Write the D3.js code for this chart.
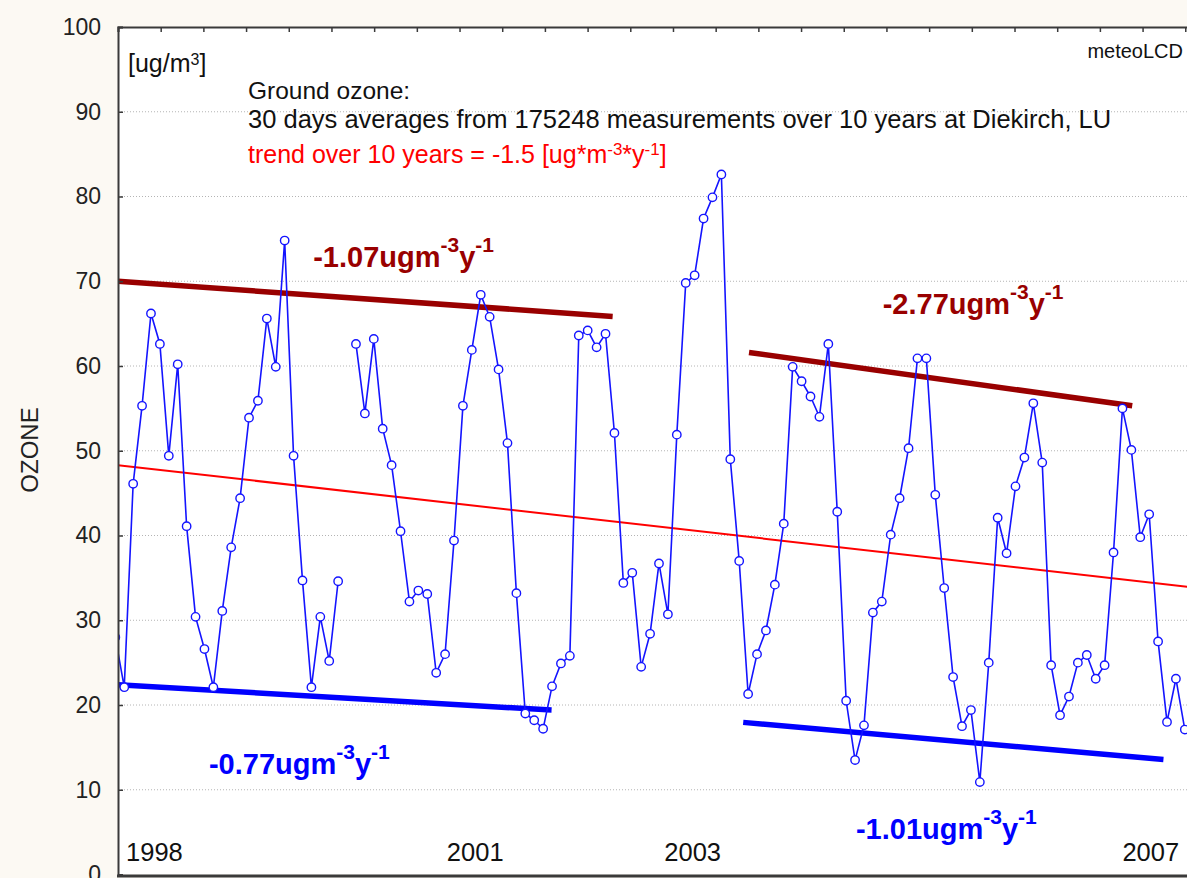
<!DOCTYPE html>
<html>
<head>
<meta charset="utf-8">
<script src="https://cdn.jsdelivr.net/npm/d3@7"></script>
<style>
  body { margin: 0; background: #fcf9f3; overflow: hidden; }
  svg { display: block; font-family: "Liberation Sans", Arial, sans-serif; }
</style>
</head>
<body>
<div id="chart"></div>
<script>
var margin = {top: 27, left: 118};
var width = 1100;      // plot runs past the right edge of the picture
var height = 847.5;

// 30 day averages, one per case (null = no data)
var ozone = [28.0, 22.1, 46.1, 55.3, 66.2, 62.6, 49.4, 60.2, 41.1, 30.4,
             26.6, 22.1, 31.1, 38.6, 44.4, 53.9, 55.9, 65.6, 59.9, 74.8,
             49.4, 34.7, 22.1, 30.4, 25.2, 34.6, null, 62.6, 54.4, 63.2,
             52.6, 48.3, 40.5, 32.2, 33.5, 33.1, 23.8, 26.0, 39.4, 55.3,
             61.9, 68.4, 65.8, 59.6, 50.9, 33.2, 19.0, 18.2, 17.2, 22.2,
             24.9, 25.8, 63.6, 64.2, 62.2, 63.8, 52.1, 34.4, 35.6, 24.5,
             28.4, 36.7, 30.7, 51.9, 69.8, 70.7, 77.4, 79.9, 82.6, 49.0,
             37.0, 21.3, 26.0, 28.8, 34.2, 41.4, 59.9, 58.2, 56.4, 54.0,
             62.6, 42.8, 20.5, 13.5, 17.6, 30.9, 32.2, 40.1, 44.4, 50.3,
             60.9, 60.9, 44.8, 33.8, 23.3, 17.5, 19.4, 10.9, 25.0, 42.1,
             37.9, 45.8, 49.2, 55.6, 48.6, 24.7, 18.8, 21.0, 25.0, 25.9,
             23.1, 24.7, 38.0, 55.0, 50.1, 39.8, 42.5, 27.5, 18.0, 23.1,
             17.1];

var yTicks = d3.range(0, 101, 10);
var yGrid = d3.range(10, 100, 10);
var caseTicks = d3.range(0.3, 125, 4.79);

var yearLabels = ["1998", "2001", "2003", "2007"];
var yearCases = [1.2, 37.2, 61.6, 113.0];
var yearValue = 1.6;

// trend over all 10 years
var trendAll = [[0.3, 48.3], [120.3, 33.95]];
// fits of the maxima and minima
var upperFits = [[[0.3, 70.0], [55.8, 65.85]], [[71.1, 61.6], [114.1, 55.3]]];
var lowerFits = [[[0.3, 22.4], [48.95, 19.4]], [[70.45, 17.95], [117.6, 13.56]]];

var upperRates = ["-1.07", "-2.77"];
var upperRateCases = [22.2, 86.1];
var upperRateValues = [71.7, 66.1];
var lowerRates = ["-0.77", "-1.01"];
var lowerRateCases = [10.5, 83.1];
var lowerRateValues = [11.9, 4.15];

var svg = d3.select("#chart").append("svg")
  .attr("width", 1187)
  .attr("height", 878);

svg.append("rect")
  .attr("x", margin.left).attr("y", margin.top)
  .attr("width", width).attr("height", height)
  .attr("fill", "#ffffff");

var g = svg.append("g")
  .attr("transform", "translate(" + margin.left + "," + margin.top + ")");

var x = d3.scaleLinear().domain([0.3, 120.3]).range([0, 1069.5]);
var y = d3.scaleLinear().domain([0, 100]).range([height, 0]);

g.append("clipPath").attr("id", "plotClip")
  .append("rect").attr("width", width).attr("height", height);

// grid
g.append("g")
  .selectAll("line")
  .data(yGrid)
  .join("line")
  .attr("x1", 0).attr("x2", width)
  .attr("y1", d => y(d)).attr("y2", d => y(d))
  .attr("stroke", "#b4b4b4")
  .attr("stroke-width", 1)
  .attr("stroke-dasharray", "1,2");

var line = d3.line()
  .defined(d => d[1] != null)
  .x(d => x(d[0]))
  .y(d => y(d[1]));

var plot = g.append("g").attr("clip-path", "url(#plotClip)");

upperFits.forEach(function(f) {
  plot.append("path").datum(f)
    .attr("fill", "none").attr("stroke", "#990000").attr("stroke-width", 5.5)
    .attr("d", line);
});
lowerFits.forEach(function(f) {
  plot.append("path").datum(f)
    .attr("fill", "none").attr("stroke", "#0000ff").attr("stroke-width", 5.5)
    .attr("d", line);
});

plot.append("path").datum(trendAll)
  .attr("fill", "none").attr("stroke", "#ff0000").attr("stroke-width", 2)
  .attr("d", line);

var points = ozone.map((v, i) => [i, v]);

plot.append("path").datum(points)
  .attr("fill", "none").attr("stroke", "#1414ff").attr("stroke-width", 1.6)
  .attr("d", line);

plot.append("g")
  .selectAll("circle")
  .data(points.filter(d => d[1] != null))
  .join("circle")
  .attr("cx", d => x(d[0]))
  .attr("cy", d => y(d[1]))
  .attr("r", 4.2)
  .attr("fill", "#ffffff")
  .attr("stroke", "#1414ff")
  .attr("stroke-width", 1.4);

// axes
var yAxis = g.append("g")
  .call(d3.axisLeft(y).tickValues(yTicks).tickSize(-5).tickPadding(17));
yAxis.select(".domain").attr("stroke", "#3a3a3a").attr("stroke-width", 2);
yAxis.selectAll(".tick line").attr("stroke", "#3a3a3a").attr("stroke-width", 1.5);
yAxis.selectAll(".tick text")
  .attr("fill", "#222")
  .style("font-size", "23px")
  .style("font-family", "'Liberation Sans', Arial, sans-serif");

var topAxis = g.append("g")
  .call(d3.axisTop(x).tickValues(caseTicks).tickSize(-5).tickFormat(""));
topAxis.select(".domain").attr("stroke", "#3a3a3a").attr("stroke-width", 2);
topAxis.selectAll(".tick line").attr("stroke", "#3a3a3a").attr("stroke-width", 1.5);

g.append("line")
  .attr("x1", -1).attr("x2", width)
  .attr("y1", height + 1.5).attr("y2", height + 1.5)
  .attr("stroke", "#3a3a3a").attr("stroke-width", 3);

svg.append("text")
  .attr("transform", "translate(38,450) rotate(-90)")
  .attr("text-anchor", "middle")
  .style("font-size", "24px")
  .attr("fill", "#222")
  .text("OZONE");

// year labels inside the plot
g.append("g")
  .selectAll("text")
  .data(yearLabels)
  .join("text")
  .attr("x", (d, i) => x(yearCases[i]))
  .attr("y", y(yearValue))
  .style("font-size", "25.5px")
  .attr("fill", "#111")
  .text(d => d);

// texts
function sup(t, main, s, shift, size) {
  t.append("tspan").text(main);
  t.append("tspan").attr("dy", -shift).style("font-size", size + "px").text(s);
}

var unit = svg.append("text").attr("x", 128).attr("y", 72)
  .style("font-size", "25px").attr("fill", "#111");
sup(unit, "[ug/m", "3", 7, 16);
unit.append("tspan").attr("dy", 7).text("]");

svg.append("text").attr("x", 1183).attr("y", 58)
  .attr("text-anchor", "end")
  .style("font-size", "20px").attr("fill", "#111")
  .text("meteoLCD");

svg.append("text").attr("x", 248).attr("y", 99)
  .style("font-size", "24.5px").attr("fill", "#111")
  .text("Ground ozone:");
svg.append("text").attr("x", 248).attr("y", 128)
  .style("font-size", "25.5px").attr("fill", "#111")
  .text("30 days averages from 175248 measurements over 10 years at Diekirch, LU");

var tr = svg.append("text").attr("x", 248).attr("y", 163)
  .style("font-size", "25px").attr("fill", "#ff0000");
sup(tr, "trend over 10 years = -1.5 [ug*m", "-3", 8, 17);
tr.append("tspan").attr("dy", 8).text("*y");
tr.append("tspan").attr("dy", -8).style("font-size", "17px").text("-1");
tr.append("tspan").attr("dy", 8).text("]");

function rateLabel(rate, c, v, color) {
  var t = g.append("text")
    .attr("x", x(c)).attr("y", y(v))
    .style("font-size", "29px").style("font-weight", "bold")
    .attr("fill", color);
  sup(t, rate + "ugm", "-3", 15, 21);
  t.append("tspan").attr("dy", 15).text("y");
  t.append("tspan").attr("dy", -15).style("font-size", "21px").text("-1");
}
upperRates.forEach((r, i) => rateLabel(r, upperRateCases[i], upperRateValues[i], "#990000"));
lowerRates.forEach((r, i) => rateLabel(r, lowerRateCases[i], lowerRateValues[i], "#0000ff"));
</script>
</body>
</html>
